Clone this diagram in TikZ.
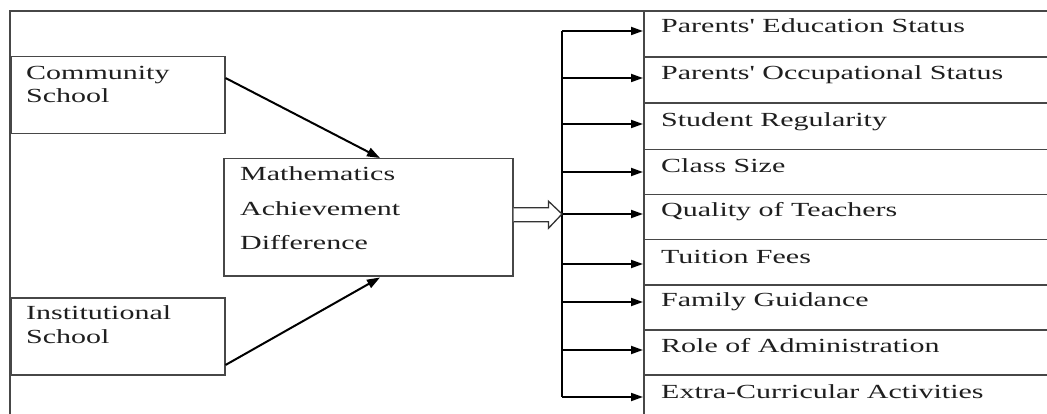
\documentclass[tikz,border=0pt]{standalone}
\usepackage{fontspec}
\setmainfont{Liberation Serif}
\usepackage{graphicx}
\usetikzlibrary{arrows.meta,calc}
\newcommand{\wide}[1]{\scalebox{1.5}[1]{#1}}
\begin{document}
\begin{tikzpicture}[x=1pt,y=-1pt,
  frame/.style={draw=black!72, line width=1.5pt},
  box/.style={frame, rectangle, inner sep=0pt, anchor=north west},
  rbox/.style={box, minimum width=420pt},
  lbl/.style={anchor=base west, inner sep=0pt, font=\fontsize{20}{24}\selectfont, text=black!88},
  arr/.style={line width=1.8pt, -{Triangle[length=12pt,width=8pt]}},
  slant/.style={line width=2pt, -{Triangle[length=13pt,width=9pt]}},
  hollow/.style={draw=black!80, line width=1.3pt, fill=white}]
\useasboundingbox (0,0) rectangle (1047,414);
\fill[white] (0,0) rectangle (1047,414);

% outer frame
\draw[frame] (10,420) -- (10,11) -- (1047,11);

% left boxes
\node[box, minimum width=214pt, minimum height=77pt] (comm) at (10,56) {};
\node[box, minimum width=214pt, minimum height=77pt] (inst) at (10,297) {};
\node[box, minimum width=289pt, minimum height=117pt] (math) at (223,158) {};

\node[lbl] (c1) at (26,80) {\wide{Community}};
\node[lbl] (c2) at (26,103) {\wide{School}};
\node[lbl] (i1) at (26,319) {\wide{Institutional}};
\node[lbl] (i2) at (26,343) {\wide{School}};
\node[lbl] (m1) at (240,181) {\wide{Mathematics}};
\node[lbl] (m2) at (240,216) {\wide{Achievement}};
\node[lbl] (m3) at (240,250) {\wide{Difference}};

% right boxes
\node[rbox, minimum height=45pt] (r1) at (643,11) {};
\node[rbox, minimum height=46pt, line width=1.8pt] (r2) at (643,56) {};
\node[rbox, minimum height=47pt] (r3) at (643,102) {};
\node[rbox, minimum height=45pt] (r4) at (643,149) {};
\node[rbox, minimum height=45pt] (r5) at (643,194) {};
\node[rbox, minimum height=45pt] (r6) at (643,239) {};
\node[rbox, minimum height=45pt] (r7) at (643,284) {};
\node[rbox, minimum height=45pt] (r8) at (643,329) {};
\node[rbox, minimum height=45pt] (r9) at (643,374) {};

\node[lbl] (t1) at (661,33) {\wide{Parents\textquotesingle\ Education Status}};
\node[lbl] (t2) at (661,80) {\wide{Parents\textquotesingle\ Occupational Status}};
\node[lbl] (t3) at (661,127) {\wide{Student Regularity}};
\node[lbl] (t4) at (661,173) {\wide{Class Size}};
\node[lbl] (t5) at (661,217) {\wide{Quality of Teachers}};
\node[lbl] (t6) at (661,263) {\wide{Tuition Fees}};
\node[lbl] (t7) at (661,306) {\wide{Family Guidance}};
\node[lbl] (t8) at (661,352) {\wide{Role of Administration}};
\node[lbl] (t9) at (661,398) {\wide{Extra-Curricular Activities}};

% slanted arrows
\draw[slant] ($(comm.north east)+(0,22)$) -- ($(math.north west)+(157,0)$);
\draw[slant] ($(inst.north east)+(0,68)$) -- ($(math.south west)+(157,1)$);

% distributor
\coordinate (d1) at (562,31);
\coordinate (d2) at (562,78);
\coordinate (d3) at (562,124);
\coordinate (d4) at (562,172);
\coordinate (d5) at (562,214);
\coordinate (d6) at (562,264);
\coordinate (d7) at (562,302);
\coordinate (d8) at (562,350);
\coordinate (d9) at (562,397);
\draw[line width=1.8pt] (d1) -- (d9);
\foreach \i in {1,...,9}{
  \draw[arr] (d\i) -- (r\i.west |- d\i);
}

% hollow arrow
\coordinate (ha) at ($(math.east)+(0,-2.5)$);
\draw[hollow] ($(ha)+(0,-7)$) -- ($(ha)+(35,-7)$) -- ($(ha)+(35,-13.5)$) -- (d5)
  -- ($(ha)+(35,13.5)$) -- ($(ha)+(35,7)$) -- ($(ha)+(0,7)$);
\end{tikzpicture}
\end{document}
